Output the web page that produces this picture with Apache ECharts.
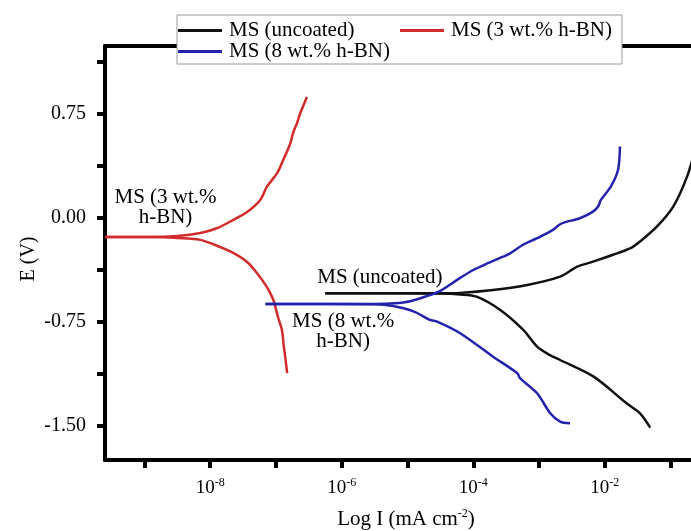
<!DOCTYPE html>
<html>
<head>
<meta charset="utf-8">
<script src="https://cdn.jsdelivr.net/npm/echarts@6/dist/echarts.min.js"></script>
<style>
  html, body { margin: 0; padding: 0; background: #fff; }
  #chart { width: 691px; height: 531px; }
</style>
</head>
<body>
<div id="chart"></div>
<script>
  // log10(I) vs E (V)
  var uncoatedAnodic = [[-6.25,-0.548],[-4.5,-0.548],[-4.2,-0.545],[-3.7,-0.524],[-3.18,-0.488],[-2.68,-0.428],[-2.42,-0.356],[-2.18,-0.32],[-1.875,-0.27],[-1.6,-0.22],[-1.465,-0.175],[-1.21,-0.068],[-0.96,0.077],[-0.75,0.293],[-0.62,0.5]];
  var uncoatedCathodic = [[-6.25,-0.548],[-4.5,-0.55],[-4.2,-0.556],[-3.95,-0.572],[-3.59,-0.668],[-3.24,-0.812],[-3.03,-0.933],[-2.85,-0.99],[-2.68,-1.029],[-2.17,-1.149],[-1.67,-1.341],[-1.465,-1.413],[-1.31,-1.516]];

  var bn3Anodic = [[-9.6,-0.142],[-8.9,-0.142],[-8.5,-0.135],[-8.15,-0.113],[-7.89,-0.077],[-7.65,-0.019],[-7.44,0.038],[-7.24,0.125],[-7.14,0.219],[-6.98,0.32],[-6.89,0.413],[-6.78,0.536],[-6.74,0.608],[-6.68,0.68],[-6.63,0.752],[-6.53,0.868]];
  var bn3Cathodic = [[-9.6,-0.142],[-8.9,-0.143],[-8.5,-0.15],[-8.15,-0.163],[-7.85,-0.214],[-7.65,-0.257],[-7.44,-0.322],[-7.29,-0.401],[-7.14,-0.502],[-7.04,-0.596],[-6.97,-0.719],[-6.91,-0.812],[-6.88,-0.935],[-6.86,-1.007],[-6.83,-1.123]];

  var bn8Anodic = [[-7.16,-0.625],[-5.5,-0.625],[-5.2,-0.62],[-4.96,-0.605],[-4.72,-0.57],[-4.5,-0.53],[-4.2,-0.437],[-4.0,-0.38],[-3.79,-0.333],[-3.6,-0.295],[-3.44,-0.26],[-3.25,-0.2],[-3.03,-0.151],[-2.79,-0.091],[-2.68,-0.05],[-2.6,-0.035],[-2.38,-0.007],[-2.18,0.041],[-2.1,0.08],[-2.06,0.125],[-1.91,0.221],[-1.8,0.341],[-1.77,0.51]];
  var bn8Cathodic = [[-7.16,-0.625],[-5.5,-0.627],[-5.22,-0.64],[-4.9,-0.68],[-4.66,-0.74],[-4.55,-0.752],[-4.2,-0.836],[-3.7,-1.005],[-3.33,-1.125],[-3.29,-1.16],[-3.03,-1.269],[-2.83,-1.413],[-2.68,-1.474],[-2.53,-1.485]];

  var names = ['MS (uncoated)', 'MS (8 wt.% h-BN)', 'MS (3 wt.% h-BN)'];
  var xTicks = [-9, -8, -7, -6, -5, -4, -3, -2, -1];
  var xLabels = [-8, -6, -4, -2];
  var yTicks = [-1.5, -1.125, -0.75, -0.375, 0, 0.375, 0.75, 1.125];
  var yLabels = [-1.5, -0.75, 0, 0.75];

  var serif = 'Liberation Serif';
  var colors = { uncoated: '#111111', bn8: '#2323ad', bn3: '#d22b2b' };
  var xMin = -9.6, xMax = -0.69;

  function curve(name, data, color, note) {
    var s = {
      name: name,
      type: 'line',
      data: data,
      symbol: 'none',
      smooth: 0.3,
      lineStyle: { color: color, width: 2.5 },
      itemStyle: { color: color },
      z: 3
    };
    if (note) {
      s.markPoint = {
        silent: true,
        symbol: 'circle',
        symbolSize: 0,
        label: {
          show: true,
          position: 'inside',
          formatter: note.text,
          color: '#000',
          fontFamily: serif,
          fontSize: 21,
          lineHeight: 20,
          align: 'center'
        },
        data: [{ coord: note.at, value: 0 }]
      };
    }
    return s;
  }

  var chart = echarts.init(document.getElementById('chart'));

  chart.setOption({
    animation: false,
    backgroundColor: '#fff',
    grid: { left: 105, top: 46, right: 0, bottom: 71, outerBoundsMode: 'none', containLabel: false },
    legend: {
      orient: 'vertical',
      left: 177, top: 15, height: 45,
      itemGap: 0, itemWidth: 44, itemHeight: 3, icon: 'rect',
      padding: [5, 0, 2, 1],
      backgroundColor: '#fff', borderColor: '#999', borderWidth: 1,
      textStyle: { fontFamily: serif, fontSize: 21, color: '#000', lineHeight: 20, padding: [0, 10, 0, 2] },
      data: names
    },
    xAxis: [{
      type: 'value',
      min: xMin, max: xMax,
      splitLine: { show: false },
      axisLine: { onZero: false, lineStyle: { color: '#000', width: 4 } },
      axisTick: { customValues: xTicks, length: 8, lineStyle: { color: '#000', width: 4 } },
      axisLabel: {
        customValues: xLabels,
        margin: 17,
        formatter: function (v) { return '{b|10}{s|' + Math.round(v) + '}'; },
        rich: {
          b: { fontFamily: serif, fontSize: 19, color: '#000' },
          s: { fontFamily: serif, fontSize: 12, color: '#000', padding: [0, 0, 11, 0] }
        }
      },
      name: '{b|Log I (mA cm}{s|-2}{b|)}',
      nameLocation: 'middle',
      nameGap: 48,
      nameMoveOverlap: false,
      nameTextStyle: {
        padding: [0, 0, 0, 16],
        rich: {
          b: { fontFamily: serif, fontSize: 21, color: '#000' },
          s: { fontFamily: serif, fontSize: 12, color: '#000', padding: [0, 0, 11, 0] }
        }
      }
    }, {
      // top frame line
      type: 'value',
      position: 'top',
      min: xMin, max: xMax,
      splitLine: { show: false },
      axisLine: { onZero: false, lineStyle: { color: '#000', width: 4 } },
      axisTick: { show: false },
      axisLabel: { show: false }
    }],
    yAxis: {
      type: 'value',
      min: -1.75, max: 1.235,
      splitLine: { show: false },
      axisLine: { onZero: false, lineStyle: { color: '#000', width: 4 } },
      axisTick: { customValues: yTicks, length: 8, lineStyle: { color: '#000', width: 4 } },
      axisLabel: {
        customValues: yLabels,
        margin: 19,
        fontFamily: serif, fontSize: 20, color: '#000',
        formatter: function (v) { return v.toFixed(2); }
      },
      name: 'E (V)',
      nameLocation: 'middle',
      nameRotate: 90,
      nameGap: 66,
      nameMoveOverlap: false,
      nameTextStyle: { fontFamily: serif, fontSize: 20, color: '#000', padding: [0, 12, 0, 0] }
    },
    series: [
      curve(names[0], uncoatedAnodic, colors.uncoated, { text: 'MS (uncoated)', at: [-5.42, -0.437] }),
      curve(names[0], uncoatedCathodic, colors.uncoated),
      curve(names[2], bn3Anodic, colors.bn3, { text: 'MS (3 wt.%\nh-BN)', at: [-8.68, 0.074] }),
      curve(names[2], bn3Cathodic, colors.bn3),
      curve(names[1], bn8Anodic, colors.bn8, { text: 'MS (8 wt.%\nh-BN)', at: [-5.98, -0.823] }),
      curve(names[1], bn8Cathodic, colors.bn8)
    ]
  });
</script>
</body>
</html>
